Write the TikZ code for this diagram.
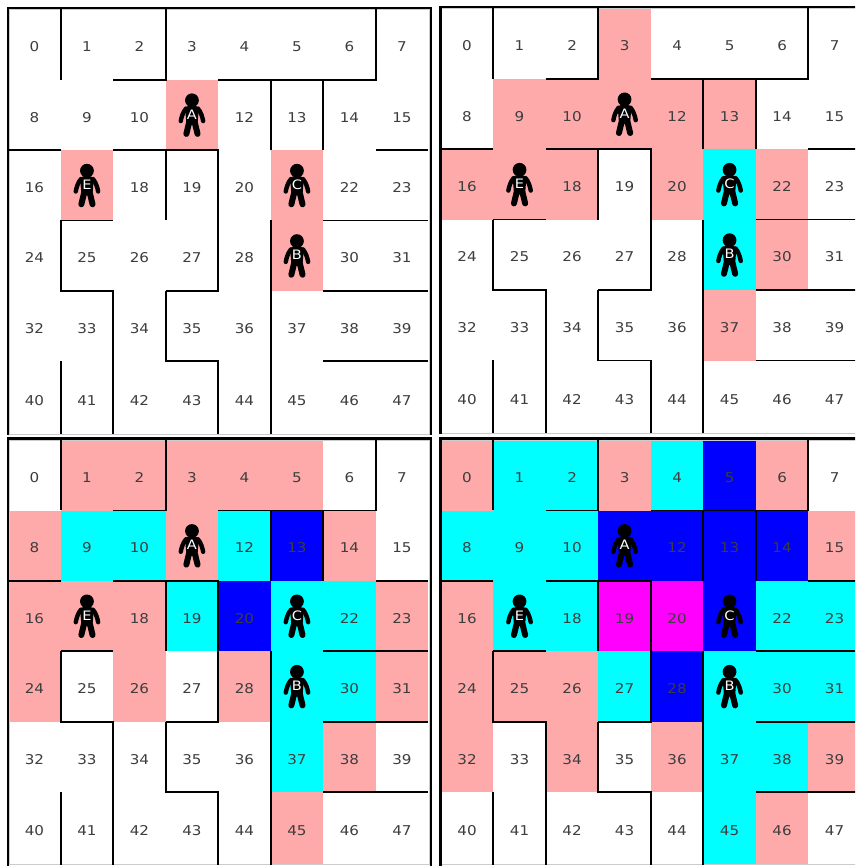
\documentclass[tikz,border=0pt]{standalone}
\usepackage{fontspec}
\setmainfont{DejaVu Sans}[FakeStretch=1.12]
\definecolor{tilew}{HTML}{FFFFFF}
\definecolor{tilep}{HTML}{FFAAAA}
\definecolor{tilec}{HTML}{00FFFF}
\definecolor{tileb}{HTML}{0000FF}
\definecolor{tilem}{HTML}{FF00FF}
\newcommand{\mazewalls}{(1,0)--(1,1) (1,3)--(1,4)--(2,4)--(2,6.03) (1,5)--(1,6.03)
(3,0)--(3,1)--(2,1) (3,2)--(3,3) (0,2)--(1,2) (2,2)--(4,2)--(4,4)--(3,4)
(3,4)--(3,5)--(4,5)--(4,6.03) (5,1)--(5,2) (6,1)--(6,2) (4,1)--(7,1)--(7,0)
(5,3)--(5,6.03) (7,2)--(8,2) (1,3)--(2,3) (6,3)--(8,3) (6,4)--(8,4) (6,5)--(8,5)}
\newcommand{\mazepanel}[4]{
\begin{scope}[shift={(#2,#3)},x=52.5pt,y=-70.4pt]
\foreach \tint [count=\c from 0] in {#4}{
\pgfmathtruncatemacro{\col}{mod(\c,8)}\pgfmathtruncatemacro{\row}{int(\c/8)}
\pgfmathsetmacro{\tall}{\row==5?73:70.4}
\pgfmathtruncatemacro{\held}{(\c==11)||(\c==17)||(\c==21)||(\c==29)}
\node[cell,minimum height=\tall pt,fill=tile\tint] (#1c\c) at (\col+.5,\row) {\ifnum\held=0 \c\fi};}
\draw[rimin] (.9pt,-.2pt) rectangle (421.3pt,-424.8pt);
\draw[wall] \mazewalls;
\draw[rimout] (-.2pt,-425.7pt)--(-.2pt,1.4pt)--(422.5pt,1.4pt)--(422.5pt,-425.7pt);
\foreach \who/\c in {A/11,B/29,C/21,E/17}{\pic[x=1pt,y=1pt] (#1\who) at (#1c\c) {person=\who};}
\end{scope}}
\tikzset{cell/.style={anchor=north,inner sep=0pt,minimum width=52.5pt,text height=14pt,text depth=0pt,text=black!76,font=\fontsize{13.5}{14}\selectfont},
wall/.style={line width=1.8pt,line join=miter},rimout/.style={line width=2.4pt},rimin/.style={line width=1pt,black!20},
tag/.style={inner sep=0pt,text=white,font=\fontsize{13}{14}\selectfont},
person/.pic={
\fill (0,14.8) circle (6.9);
\fill[rounded corners=3pt] (-7,9)--(7,9)--(5.5,-10)--(-5.5,-10)--cycle;
\draw[line width=4.4pt,line cap=round] (-6,6.5) .. controls (-9,3) and (-10.5,-2) .. (-11.2,-6);
\draw[line width=4.4pt,line cap=round] (6,6.5) .. controls (9,3) and (10.5,-2) .. (11.2,-6);
\draw[line width=6pt,line cap=round] (-3,-8)--(-5.6,-18.8);
\draw[line width=6pt,line cap=round] (3,-8)--(5.6,-18.8);
\node[tag] (-tag) at (0,.8) {#1};}}
\begin{document}
\begin{tikzpicture}[x=1pt,y=1pt]
\useasboundingbox (0,0) rectangle (855,-866);
\clip (0,0) rectangle (855,-866);
\mazepanel{p1}{8.2}{-9.3}{w,w,w,w,w,w,w,w, w,w,w,p,w,w,w,w, w,p,w,w,w,p,w,w, w,w,w,w,w,p,w,w, w,w,w,w,w,w,w,w, w,w,w,w,w,w,w,w}
\mazepanel{p2}{440.8}{-8.4}{w,w,w,p,w,w,w,w, w,p,p,p,p,p,w,w, p,p,p,w,p,c,p,w, w,w,w,w,w,c,p,w, w,w,w,w,w,p,w,w, w,w,w,w,w,w,w,w}
\mazepanel{p3}{8.2}{-440}{w,p,p,p,p,p,w,w, p,c,c,p,c,b,p,w, p,p,p,c,b,c,c,p, p,w,p,w,p,c,c,p, w,w,w,w,w,c,p,w, w,w,w,w,w,p,w,w}
\mazepanel{p4}{440.8}{-440}{p,c,c,p,c,b,p,w, c,c,c,b,b,b,b,p, p,c,c,m,m,b,c,c, p,p,p,c,b,c,c,c, p,w,p,w,p,c,c,p, w,w,w,w,w,c,p,w}
\end{tikzpicture}
\end{document}
